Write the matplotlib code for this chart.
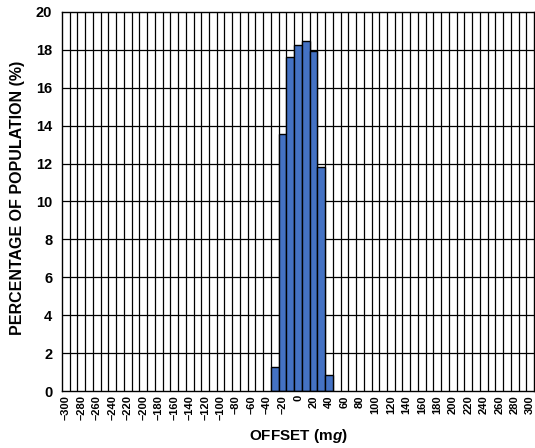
import numpy as np
import matplotlib
matplotlib.use("Agg")
import matplotlib.pyplot as plt

plt.rcParams['font.family'] = ['Liberation Sans', 'DejaVu Sans']
plt.rcParams['mathtext.fontset'] = 'custom'
plt.rcParams['mathtext.it'] = 'Liberation Sans:italic:bold'

# histogram bins (offset in mg) and percentage of population
offsets = [-30, -20, -10, 0, 10, 20, 30, 40]
percent = [1.28, 13.56, 17.6, 18.26, 18.49, 17.94, 11.84, 0.84]

x_ticks = list(range(-300, 301, 20))
y_ticks = list(range(0, 21, 2))

fig = plt.figure(figsize=(5.35, 4.48), dpi=100)
ax = fig.add_axes([62 / 535, 57 / 448, 472 / 535, 379 / 448])

# grid: vertical lines between 10 mg categories, horizontal every 2 %
for gx in np.arange(-295, 300, 10):
    ax.axvline(gx, color='black', lw=0.9, zorder=1)
for gy in y_ticks[1:-1]:
    ax.axhline(gy, color='black', lw=0.9, zorder=1)

ax.bar(offsets, percent, width=10, color='#4472c4', edgecolor='black',
       linewidth=1.0, zorder=2)

ax.set_xlim(-305, 305)
ax.set_ylim(0, 20)
ax.set_xticks(x_ticks)
ax.set_xticklabels([str(v).replace('-', '\u2013') for v in x_ticks],
                   rotation=90, fontsize=8, fontweight='bold')
ax.set_yticks(y_ticks)
ax.set_yticklabels([str(v) for v in y_ticks], fontsize=10.5, fontweight='bold')
ax.tick_params(axis='x', length=0, pad=3)
ax.tick_params(axis='y', length=0, pad=7)

for s in ax.spines.values():
    s.set_linewidth(1.0)
    s.set_color('black')

fig.text(298 / 535, 1 - 436 / 448, r'OFFSET (m$\mathit{g}$)', ha='center',
         va='center', fontsize=11, fontweight='bold')
fig.text(18 / 535, 1 - 198 / 448, 'PERCENTAGE OF POPULATION (%)', ha='center',
         va='center', rotation=90, fontsize=11.5, fontweight='bold')

fig.savefig('out.png', dpi=100)
